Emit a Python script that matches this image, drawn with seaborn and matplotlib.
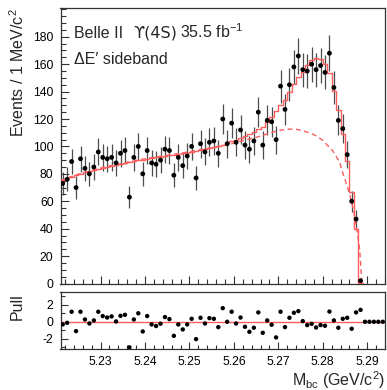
import numpy as np
import pandas as pd
import matplotlib
matplotlib.use("Agg")
import matplotlib.pyplot as plt
from matplotlib.ticker import MultipleLocator
import seaborn as sns

# --- Data (1 MeV bins) ---
mbc_lo, mbc_hi, n_bins = 5.221, 5.294, 73

# events per bin (bins 0..67, the rest are empty)
data_counts = [73, 76, 89, 70, 91, 84, 80, 85, 96, 92,
               91, 92, 88, 95, 97, 63, 92, 100, 80, 97,
               88, 87, 90, 98, 97, 79, 92, 86, 93, 100,
               77, 102, 96, 103, 104, 95, 120, 102, 117, 103,
               112, 101, 98, 104, 125, 101, 119, 118, 105, 144,
               127, 145, 158, 166, 156, 155, 160, 156, 159, 154,
               168, 143, 119, 113, 94, 60, 47, 2]

# total fit per bin (bins 0..67)
fit_total = [75.5, 76.8, 78.0, 79.0, 80.0, 81.0, 81.9, 82.8, 83.6, 84.4,
             85.2, 86.0, 86.7, 87.4, 88.0, 88.6, 89.2, 89.8, 90.4, 91.0,
             91.5, 92.0, 92.5, 93.0, 93.5, 94.0, 94.5, 95.0, 95.5, 96.0,
             96.6, 97.2, 97.8, 98.5, 99.3, 100.2, 101.3, 102.5, 103.8, 104.8,
             106.2, 107.4, 109.0, 110.8, 113.0, 114.5, 117.8, 121.8, 125.6, 130.0,
             134.0, 139.4, 145.3, 150.5, 154.5, 159.7, 163.3, 164.5, 164.0, 159.8,
             153.5, 140.7, 126.6, 109.0, 89.5, 66.7, 39.9, 0.6]

# background (dashed) curve
bkg_mbc = [5.2210, 5.2242, 5.2309, 5.2399, 5.2489, 5.2590, 5.2623, 5.2652,
           5.2680, 5.2700, 5.2720, 5.2740, 5.2760, 5.2781, 5.2800, 5.2810,
           5.2822, 5.2838, 5.2845, 5.2853, 5.2860, 5.2870, 5.2877, 5.2883,
           5.2888]
bkg_val = [75.0, 79.0, 85.0, 91.0, 95.5, 101.5, 104.5, 106.8,
           109.7, 111.5, 112.6, 112.6, 111.0, 108.5, 104.5, 101.0,
           97.0, 88.5, 80.5, 73.0, 66.0, 52.0, 39.0, 25.0,
           0.0]

# pulls per bin (bins 0..72)
pulls = [-0.31, -0.12, 1.18, -1.10, 1.18, 0.27, -0.20, 0.16, 1.18, 0.67,
         0.50, 0.63, 0.04, 0.70, 0.82, -3.00, 0.27, 1.00, -1.14, 0.67,
         -0.31, -0.50, -0.23, 0.55, 0.31, -1.65, -0.31, -0.90, -0.31, 0.35,
         -2.04, 0.47, -0.20, 0.43, 0.35, -0.63, 1.60, 0.00, 1.18, -0.20,
         0.50, -0.59, -1.18, -0.70, 1.10, -1.30, 0.16, -0.35, -1.84, 1.18,
         -0.63, 0.47, 1.06, 1.25, 0.08, -0.39, -0.24, -0.67, -0.39, -0.47,
         1.20, 0.16, -0.70, 0.35, 0.47, -0.82, 1.10, 1.40, 0.00, 0.00,
         0.00, 0.00, 0.00]

edges = np.linspace(mbc_lo, mbc_hi, n_bins + 1)
centers = 0.5 * (edges[1:] + edges[:-1])
n_data = len(data_counts)
n_fit = len(fit_total)
fit_df = pd.DataFrame({'mbc': centers[:n_fit], 'fit': fit_total})

sns.set_style("ticks")
plt.rcParams['font.family'] = ['Liberation Sans', 'DejaVu Sans']
plt.rcParams['mathtext.fontset'] = 'custom'
plt.rcParams['mathtext.rm'] = 'Liberation Sans'
plt.rcParams['mathtext.it'] = 'Liberation Sans:italic'
plt.rcParams['axes.unicode_minus'] = False

W, H = 387, 390
fig = plt.figure(figsize=(W / 100, H / 100), dpi=100)

def box(l, t, r, b):
    return [l / W, 1 - b / H, (r - l) / W, (b - t) / H]

ax = fig.add_axes(box(60.5, 8, 385, 283.5))
axp = fig.add_axes(box(60.5, 292, 385, 349))

red = '#ff5c5c'
frame = '0.2'

# data points with sqrt(N) errors
counts = np.array(data_counts, dtype=float)
ax.errorbar(centers[:n_data], counts, yerr=np.sqrt(counts), fmt='none',
            ecolor='0.3', elinewidth=0.9, capsize=0, zorder=2)
sns.scatterplot(x=centers[:n_data], y=counts, color='black', s=12,
                edgecolor='none', ax=ax, zorder=4)

# total fit (histogram) and background
sns.histplot(data=fit_df, x='mbc', weights='fit',
             bins=list(edges[:n_fit + 1]), element='step', fill=False,
             color=red, linewidth=1.0, ax=ax, zorder=3)
sns.lineplot(x=bkg_mbc, y=bkg_val, color=red, linewidth=1.0,
             linestyle=(0, (3.5, 2.5)), ax=ax, zorder=3)

ax.set_xlim(mbc_lo, mbc_hi)
ax.set_ylim(0, 201)
ax.set_xlabel('')
ax.set_ylabel('')
ax.xaxis.set_major_locator(MultipleLocator(0.01))
ax.xaxis.set_minor_locator(MultipleLocator(0.002))
ax.set_yticks(range(0, 181, 20))
ax.yaxis.set_minor_locator(MultipleLocator(5))
ax.tick_params(axis='x', labelbottom=False)

# pull panel
axp.axhline(0, color=red, linewidth=1.0, zorder=1)
sns.scatterplot(x=centers, y=pulls, color='black', s=10, edgecolor='none',
                ax=axp, zorder=3)
axp.set_xlim(mbc_lo, mbc_hi)
axp.set_ylim(-3.2, 3.5)
axp.set_xlabel('')
axp.set_ylabel('')
axp.xaxis.set_major_locator(MultipleLocator(0.01))
axp.xaxis.set_minor_locator(MultipleLocator(0.002))
axp.yaxis.set_major_locator(MultipleLocator(2))
axp.yaxis.set_minor_locator(MultipleLocator(1))
axp.xaxis.set_major_formatter(lambda v, pos: f'{v:.2f}')

for a in (ax, axp):
    for s in a.spines.values():
        s.set_color(frame)
        s.set_linewidth(0.9)
    a.tick_params(which='both', direction='in', color=frame, width=0.8,
                  labelsize=8.8, labelcolor='black', pad=5,
                  top=False, right=False)
ax.tick_params(which='major', length=6)
ax.tick_params(which='minor', length=3.5)
axp.tick_params(which='major', length=5)
axp.tick_params(which='minor', length=3)

# labels and text
def px(x, y):
    return x / W, 1 - y / H

fig.text(*px(18, 8), 'Events / 1 MeV/c$^{2}$', rotation=90, ha='center',
         va='top', fontsize=11.5)
fig.text(*px(17, 293), 'Pull', rotation=90, ha='center', va='top',
         fontsize=11.5)
fig.text(*px(385, 386), 'M$_{\\mathrm{bc}}$ (GeV/c$^{2}$)', ha='right',
         va='baseline', fontsize=11.5)

fig.text(*px(74, 37.5), 'Belle II', ha='left', va='baseline', fontsize=11.5)
fig.text(*px(133, 37.5), '\u03d2(4S)', ha='left', va='baseline', fontsize=11.5,
         family=['DejaVu Sans'])
fig.text(*px(180, 37.5), '35.5 fb$^{-1}$', ha='left', va='baseline',
         fontsize=11.5)
fig.text(*px(74, 63.5), '\u0394E\u2032 sideband', ha='left', va='baseline',
         fontsize=11.5)

fig.savefig('out.png', dpi=100)
